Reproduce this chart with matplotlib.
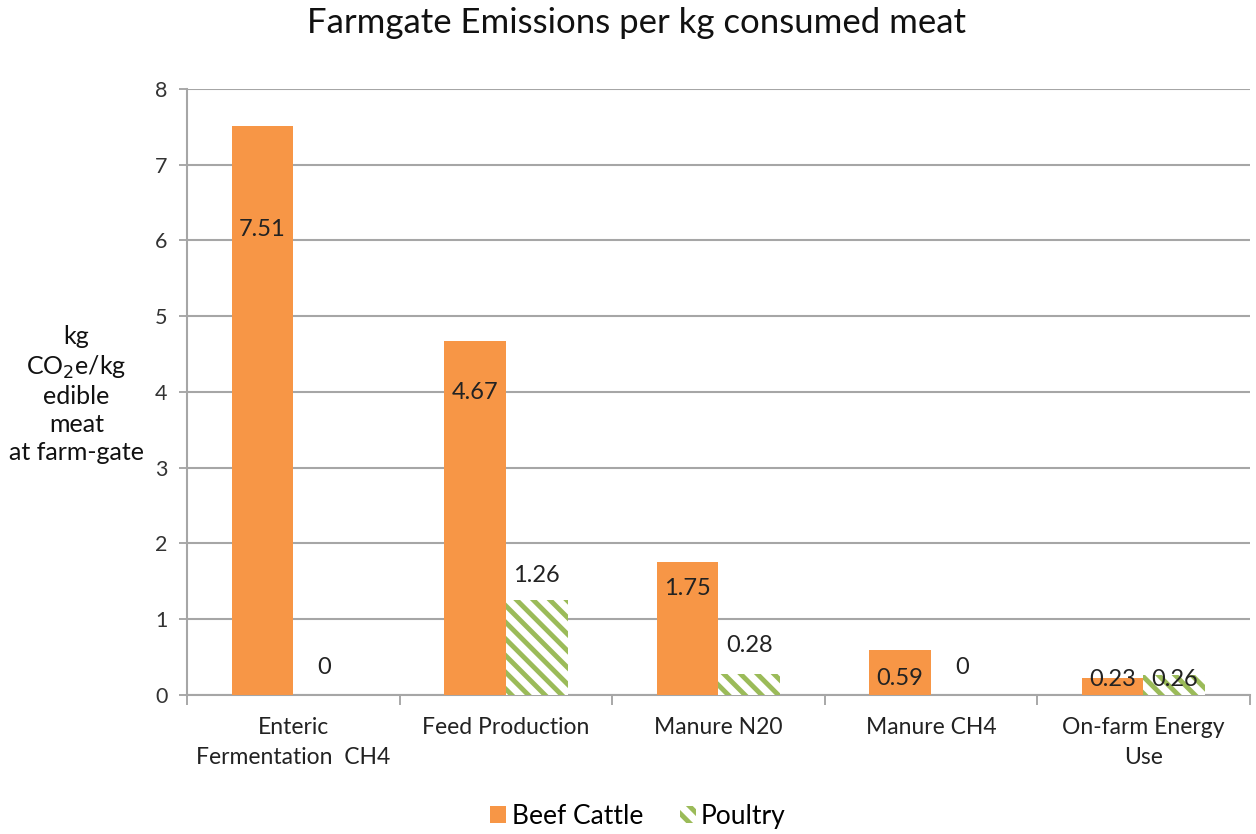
import numpy as np
import matplotlib.pyplot as plt
from matplotlib.patches import Patch

categories = ["Enteric\nFermentation  CH4", "Feed Production", "Manure N20",
              "Manure CH4", "On-farm Energy\nUse"]
beef = [7.51, 4.67, 1.75, 0.59, 0.23]
poultry = [0, 1.26, 0.28, 0, 0.26]
# where the data labels sit (in y units), as in the original
beef_label_y = [6.14, 3.99, 1.41, 0.22, 0.20]
poultry_label_y = [0.36, 1.58, 0.65, 0.36, 0.20]

orange = "#F79646"
green = "#9BBB59"

plt.rcParams['font.family'] = ['Lato', 'DejaVu Sans']
plt.rcParams['hatch.linewidth'] = 3.5
plt.rcParams['hatch.color'] = green

fig = plt.figure(figsize=(12.56, 8.34), dpi=100)
ax = fig.add_axes([0.149, 0.1667, 0.846, 0.7266])

x = np.arange(len(categories))
w = 0.29
ax.bar(x - w / 2, beef, w, color=orange, zorder=3)
ax.bar(x + w / 2, poultry, w, color="white", edgecolor=green, linewidth=0,
       hatch="\\\\", zorder=3)

for i in range(len(categories)):
    ax.text(x[i] - w / 2, beef_label_y[i], f"{beef[i]:g}", ha="center", va="center",
            fontsize=17, color="#222222", zorder=4)
    ax.text(x[i] + w / 2, poultry_label_y[i], f"{poultry[i]:g}", ha="center", va="center",
            fontsize=17, color="#222222", zorder=4)

ax.set_xlim(-0.5, len(categories) - 0.5)
ax.set_ylim(0, 8)
ax.set_yticks(range(0, 9))
ax.tick_params(axis="y", labelsize=15.5, colors="#333333", length=6, width=1.2,
               color="#999999", pad=8)
ax.yaxis.grid(True, color="#A6A6A6", linewidth=1.5, zorder=0)
ax.set_axisbelow(True)

ax.set_xticks(x)
ax.set_xticklabels(categories, fontsize=16.5, color="#222222", linespacing=1.5)
ax.tick_params(axis="x", length=0, pad=16)
ax.set_xticks(np.arange(-0.5, len(categories)), minor=True)
ax.tick_params(axis="x", which="minor", length=7, width=1.2, color="#999999")

for s in ["top", "right"]:
    ax.spines[s].set_visible(False)
ax.spines["left"].set_color("#A6A6A6")
ax.spines["bottom"].set_color("#A6A6A6")
ax.spines["left"].set_linewidth(1.5)
ax.spines["bottom"].set_linewidth(1.5)

fig.text(0.507, 0.973, "Farmgate Emissions per kg consumed meat", ha="center", va="center",
         fontsize=25, color="#111111")
fig.text(0.061, 0.527, "kg\nCO$_2$e/kg\nedible\nmeat\nat farm-gate", ha="center", va="center",
         fontsize=18, color="#111111", linespacing=1.25)

handles = [Patch(facecolor=orange), Patch(facecolor="white", hatch="\\\\", linewidth=0)]
fig.legend(handles, ["Beef Cattle", "Poultry"], loc="center", bbox_to_anchor=(0.508, 0.021),
           ncol=2, frameon=False, fontsize=19, handlelength=0.6, handleheight=0.6,
           handletextpad=0.2, columnspacing=1.4)

fig.savefig("out.png", dpi=100)
